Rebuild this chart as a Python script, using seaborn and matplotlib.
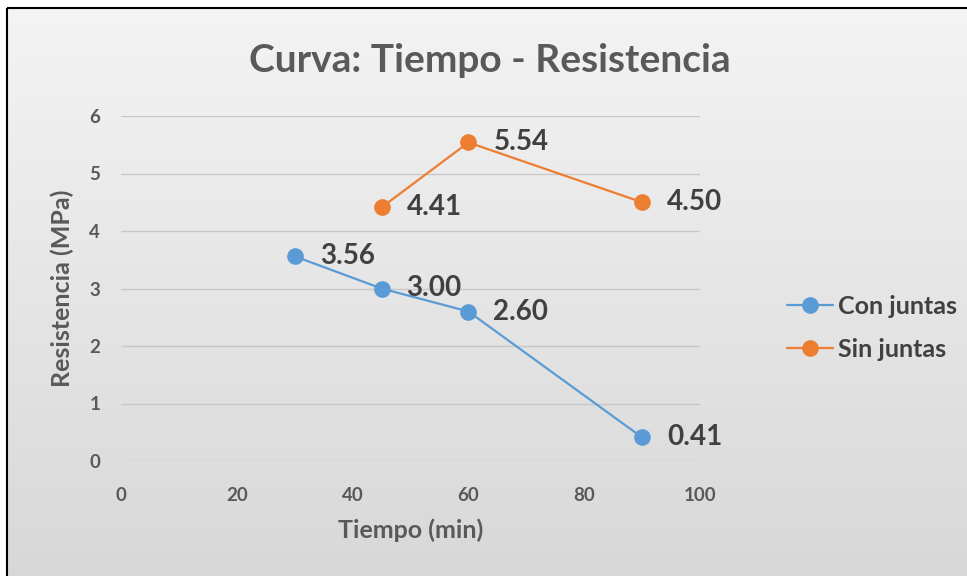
import numpy as np
import pandas as pd
import seaborn as sns
import matplotlib.pyplot as plt
from matplotlib.patches import Rectangle

# data
tiempo_con = [30, 45, 60, 90]
resist_con = [3.56, 3.00, 2.60, 0.41]
tiempo_sin = [45, 60, 90]
resist_sin = [4.41, 5.54, 4.50]
series_names = ["Con juntas", "Sin juntas"]
x_ticks = [0, 20, 40, 60, 80, 100]
y_ticks = [0, 1, 2, 3, 4, 5, 6]

df = pd.DataFrame({
    "Tiempo": tiempo_con + tiempo_sin,
    "Resistencia": resist_con + resist_sin,
    "Serie": [series_names[0]] * len(tiempo_con) + [series_names[1]] * len(tiempo_sin),
})

sns.set_style("white")
plt.rcParams['font.family'] = ['Lato', 'DejaVu Sans']
plt.rcParams['font.weight'] = 'bold'

txt = "#595959"
lbl = "#404040"
colors = {"Con juntas": "#5b9bd5", "Sin juntas": "#ed7d31"}

fig = plt.figure(figsize=(9.67, 5.76), dpi=100)
fig.patch.set_facecolor("white")

# gradient background inside the chart frame
bg = fig.add_axes([0, 0, 1, 1], zorder=-10)
grad = np.linspace(0.955, 0.845, 256).reshape(-1, 1)
bg.imshow(np.dstack([grad, grad, grad]), aspect="auto", extent=[7, 975, 580, 8],
          interpolation="bicubic")
bg.set_xlim(0, 967)
bg.set_ylim(576, 0)
bg.add_patch(Rectangle((7, 8), 980, 600, fill=False, edgecolor="black", lw=1.5))
bg.axis("off")

ax = fig.add_axes([121 / 967, 1 - 461 / 576, 579 / 967, 345 / 576])
ax.set_facecolor("none")

sns.lineplot(data=df, x="Tiempo", y="Resistencia", hue="Serie", palette=colors,
             marker="o", markersize=12, linewidth=1.6, markeredgewidth=0,
             ax=ax, legend=False)

for name, xs, ys in [(series_names[0], tiempo_con, resist_con),
                     (series_names[1], tiempo_sin, resist_sin)]:
    for x, y in zip(xs, ys):
        ax.annotate(f"{y:.2f}", (x, y), xytext=(18, 0), textcoords="offset points",
                    va="center", ha="left", fontsize=20, fontweight="bold", color=lbl)

ax.set_xlim(0, 100)
ax.set_ylim(0, 6)
ax.set_xticks(x_ticks)
ax.set_yticks(y_ticks)
ax.grid(axis="y", color="#c8c8c8", linewidth=1)
ax.set_axisbelow(True)
for s in ax.spines.values():
    s.set_visible(False)
ax.tick_params(axis="x", length=0, pad=19, labelsize=13.5, labelcolor=txt)
ax.tick_params(axis="y", length=0, pad=15, labelsize=13.5, labelcolor=txt)
for t in ax.get_xticklabels() + ax.get_yticklabels():
    t.set_fontweight("bold")

ax.set_xlabel("Tiempo (min)", fontsize=18, fontweight="bold", color=txt, labelpad=10)
ax.set_ylabel("Resistencia (MPa)", fontsize=18, fontweight="bold", color=txt, labelpad=11)

fig.text(490 / 967, 1 - 60 / 576, "Curva: Tiempo - Resistencia", ha="center", va="center",
         fontsize=28, fontweight="bold", color=txt)

handles = [plt.Line2D([], [], color=colors[n], marker="o", markersize=12,
                      markeredgewidth=0, linewidth=1.6) for n in series_names]
fig.legend(handles, series_names, loc="center left", bbox_to_anchor=(764 / 967, 1 - 328 / 576),
           frameon=False, prop={"size": 18, "weight": "bold"}, labelcolor=lbl,
           handlelength=1.85, handletextpad=0.2, labelspacing=0.8)

fig.savefig("out.png", dpi=100)
